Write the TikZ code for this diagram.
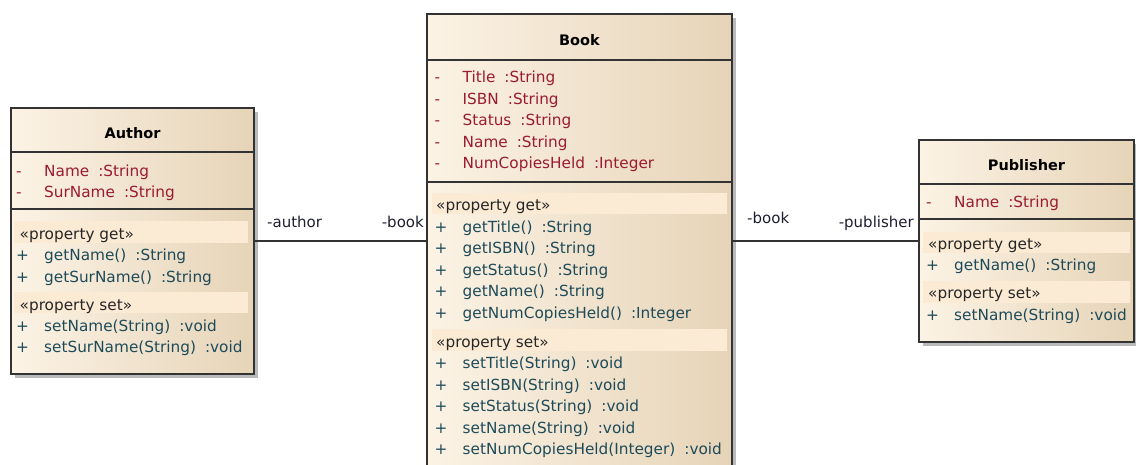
\documentclass[tikz,border=0pt]{standalone}
\usepackage{fontspec}
\setmainfont{DejaVu Sans}
\usetikzlibrary{shadows}
\definecolor{attrred}{RGB}{155,27,48}
\definecolor{opteal}{RGB}{30,75,90}
\definecolor{bandfill}{RGB}{251,235,213}
\definecolor{boxleft}{RGB}{252,243,229}
\definecolor{boxright}{RGB}{230,212,184}
\definecolor{rolecol}{RGB}{30,30,50}
\newcommand{\vis}[1]{\makebox[28pt][l]{#1}}
\begin{document}
\begin{tikzpicture}[x=1pt,y=-1pt,
	classbox/.style={draw=black!80,line width=1.4pt,left color=boxleft,right color=boxright,
		drop shadow={shadow xshift=4pt,shadow yshift=-4pt,fill=black!30,opacity=.9}},
	divider/.style={draw=black!80,line width=1.4pt},
	band/.style={fill=bandfill},
	classname/.style={anchor=base,inner sep=0pt,font=\fontsize{14.5}{17}\selectfont\bfseries},
	attr/.style={anchor=base west,inner sep=0pt,text=attrred,font=\fontsize{15.3}{18}\selectfont},
	oper/.style={anchor=base west,inner sep=0pt,text=opteal,font=\fontsize{15.3}{18}\selectfont},
	stereo/.style={anchor=base west,inner sep=0pt,text=black!85,font=\fontsize{15.3}{18}\selectfont},
	role/.style={inner sep=0pt,text=rolecol,font=\fontsize{15}{18}\selectfont},
	assoc/.style={draw=black!80,line width=1.4pt}]
	\useasboundingbox (0,0) rectangle (1136,464);
	\clip (0,0) rectangle (1136,464);
	% class boxes
	\node[classbox,minimum width=243pt,minimum height=266pt] (author) at (132.5,241) {};
	\node[classbox,minimum width=305pt,minimum height=454pt] (book) at (579.5,241) {};
	\node[classbox,minimum width=215pt,minimum height=202pt] (publisher) at (1026.5,241) {};
	% compartments
	\draw[divider] (author.west |- 0,152) -- (author.east |- 0,152);
	\draw[divider] (author.west |- 0,209) -- (author.east |- 0,209);
	\draw[divider] (book.west |- 0,60) -- (book.east |- 0,60);
	\draw[divider] (book.west |- 0,182) -- (book.east |- 0,182);
	\draw[divider] (publisher.west |- 0,184) -- (publisher.east |- 0,184);
	\draw[divider] (publisher.west |- 0,219) -- (publisher.east |- 0,219);
	\fill[band] (14,221) rectangle (248,243);
	\fill[band] (14,292) rectangle (248,313);
	\fill[band] (432,193) rectangle (727,214);
	\fill[band] (432,329) rectangle (727,351);
	\fill[band] (923,232) rectangle (1130,253);
	\fill[band] (923,281) rectangle (1130,303);
	% Author
	\node[classname] (authorName) at (author.north |- 0,138.3) {Author};
	\node[attr] (authorA1) at (16,176) {\vis{-}Name\hspace{9pt}:String};
	\node[attr] (authorA2) at (16,197.3) {\vis{-}SurName\hspace{9pt}:String};
	\node[stereo] (authorGet) at (19.5,239.3) {«property get»};
	\node[oper] (authorO1) at (16,260.7) {\vis{+}getName()\hspace{9pt}:String};
	\node[oper] (authorO2) at (16,282) {\vis{+}getSurName()\hspace{9pt}:String};
	\node[stereo] (authorSet) at (19.5,310.7) {«property set»};
	\node[oper] (authorO3) at (16,331.7) {\vis{+}setName(String)\hspace{9pt}:void};
	\node[oper] (authorO4) at (16,352.9) {\vis{+}setSurName(String)\hspace{9pt}:void};
	% Book
	\node[classname] (bookName) at (book.north |- 0,45.7) {Book};
	\node[attr] (bookA1) at (434.5,82.7) {\vis{-}Title\hspace{9pt}:String};
	\node[attr] (bookA2) at (434.5,104.2) {\vis{-}ISBN\hspace{9pt}:String};
	\node[attr] (bookA3) at (434.5,125.7) {\vis{-}Status\hspace{9pt}:String};
	\node[attr] (bookA4) at (434.5,147.2) {\vis{-}Name\hspace{9pt}:String};
	\node[attr] (bookA5) at (434.5,168.7) {\vis{-}NumCopiesHeld\hspace{9pt}:Integer};
	\node[stereo] (bookGet) at (436,210.7) {«property get»};
	\node[oper] (bookO1) at (434.5,232.2) {\vis{+}getTitle()\hspace{9pt}:String};
	\node[oper] (bookO2) at (434.5,253.7) {\vis{+}getISBN()\hspace{9pt}:String};
	\node[oper] (bookO3) at (434.5,275.2) {\vis{+}getStatus()\hspace{9pt}:String};
	\node[oper] (bookO4) at (434.5,296.7) {\vis{+}getName()\hspace{9pt}:String};
	\node[oper] (bookO5) at (434.5,318.2) {\vis{+}getNumCopiesHeld()\hspace{9pt}:Integer};
	\node[stereo] (bookSet) at (436,347.3) {«property set»};
	\node[oper] (bookO6) at (434.5,368.6) {\vis{+}setTitle(String)\hspace{9pt}:void};
	\node[oper] (bookO7) at (434.5,390.1) {\vis{+}setISBN(String)\hspace{9pt}:void};
	\node[oper] (bookO8) at (434.5,411.6) {\vis{+}setStatus(String)\hspace{9pt}:void};
	\node[oper] (bookO9) at (434.5,433.1) {\vis{+}setName(String)\hspace{9pt}:void};
	\node[oper] (bookO10) at (434.5,454.6) {\vis{+}setNumCopiesHeld(Integer)\hspace{9pt}:void};
	% Publisher
	\node[classname] (publisherName) at (publisher.north |- 0,170) {Publisher};
	\node[attr] (publisherA1) at (926,207.3) {\vis{-}Name\hspace{9pt}:String};
	\node[stereo] (publisherGet) at (928,249) {«property get»};
	\node[oper] (publisherO1) at (926,270.7) {\vis{+}getName()\hspace{9pt}:String};
	\node[stereo] (publisherSet) at (928,298.3) {«property set»};
	\node[oper] (publisherO2) at (926,320) {\vis{+}setName(String)\hspace{9pt}:void};
	% associations
	\draw[assoc] (author.east) -- (book.west);
	\draw[assoc] (book.east) -- (publisher.west);
	\node[role,anchor=base west] (roleAuthor) at (267,227) {-author};
	\node[role,anchor=base east] (roleBookL) at (424,227) {-book};
	\node[role,anchor=base west] (roleBookR) at (747,223) {-book};
	\node[role,anchor=base east] (rolePublisher) at (914,227) {-publisher};
\end{tikzpicture}
\end{document}
